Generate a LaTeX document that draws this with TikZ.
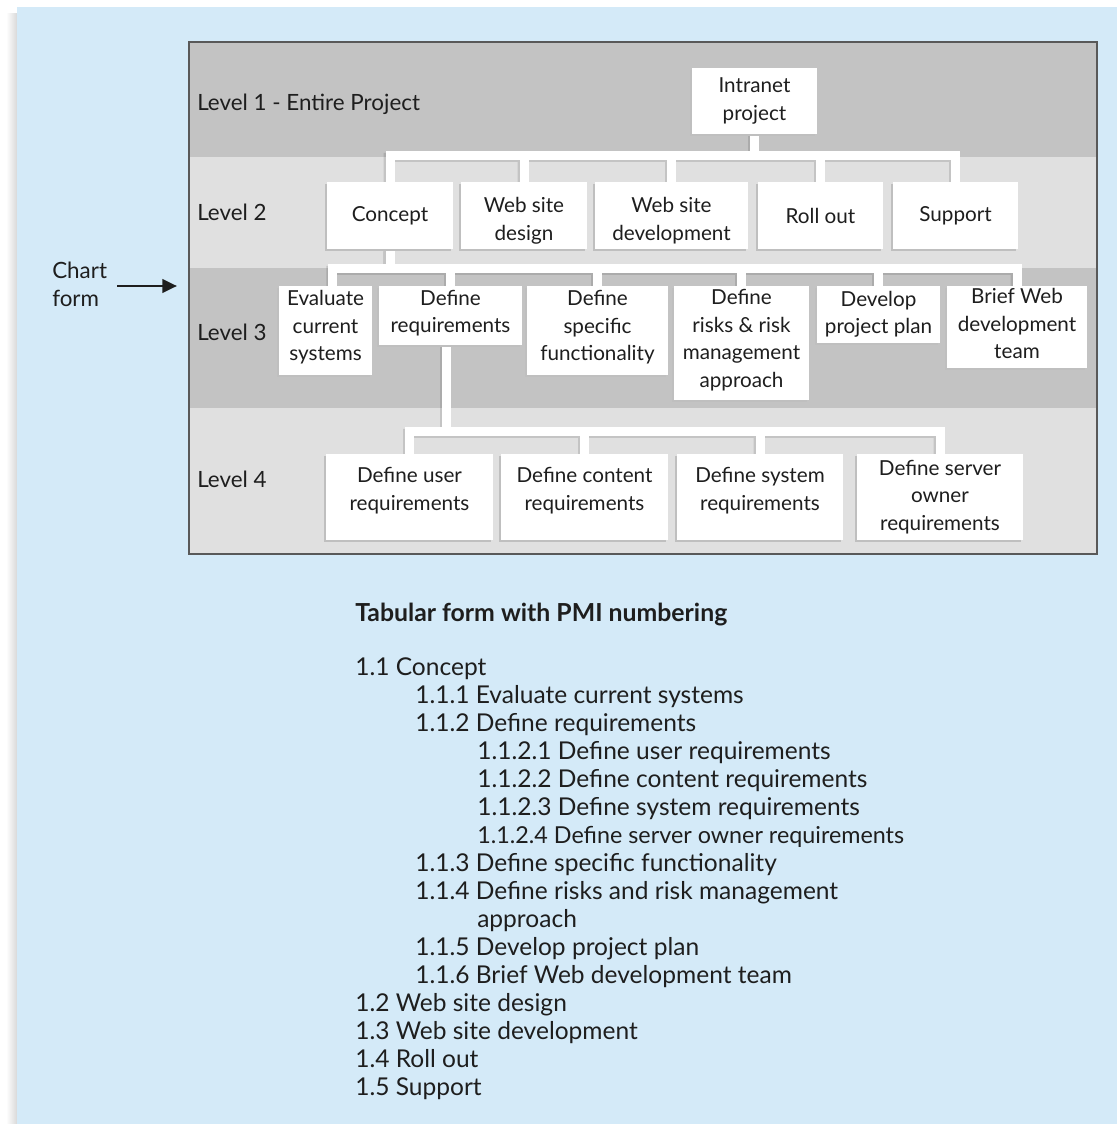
\documentclass[tikz,border=0pt]{standalone}
\usepackage{fontspec}
\setmainfont{Lato}
\usetikzlibrary{shadows,arrows.meta}
\definecolor{bgblue}{HTML}{D4EAF8}
\definecolor{darkband}{HTML}{C3C3C3}
\definecolor{lightband}{HTML}{E0E0E0}
\definecolor{txt}{HTML}{1E1E1E}
\pgfdeclarelayer{bottom}
\pgfdeclarelayer{background}
\pgfsetlayers{bottom,background,main}
\newcommand\xdp[1]{\rule[-#1]{0pt}{#1}}
\newcommand\xht[1]{\rule{0pt}{#1}}
\newcommand\wbsconnectors[1]{%
  \foreach \c in {concept,wsdesign,wsdev,rollout,support}
    \draw[#1] (intranet.south) -- ++(0,21) -| (\c.north);
  \draw[#1] (concept.south) -- ++(0,19) -| ([xshift=5.6pt]eval.north);
  \foreach \c in {defreq,defspec,risks,develop,brief}
    \draw[#1] (concept.south) -- ++(0,19) -| (\c.north);
  \foreach \c in {defuser,defcontent,defsystem,defserver}
    \draw[#1] ([xshift=-3pt]defreq.south) -- ++(0,86) -| (\c.north);
}
\begin{document}
\begin{tikzpicture}[x=0.75pt,y=-0.75pt,
  box/.style={fill=white, inner sep=0pt, align=center, text=txt,
    font=\fontsize{15.5}{20.6}\selectfont,
    general shadow={fill=black!25, shadow xshift=-1.5pt, shadow yshift=-1.5pt}},
  bx/.style 2 args={box, minimum width=#1*0.75pt, minimum height=#2*0.75pt},
  conn/.style={draw=white, line width=6.75pt},
  connshadow/.style={draw=black, line width=6.75pt},
  lvl/.style={anchor=base west, inner sep=0pt, text=txt, font=\fontsize{16.8}{20.6}\selectfont},
  item/.style={anchor=base west, inner sep=0pt, text=txt, font=\fontsize{18.4}{21}\selectfont}]
\useasboundingbox (0,0) rectangle (1117,1124);
\begin{pgfonlayer}{bottom}
\fill[white] (0,0) rectangle (1117,1124);
\shade[left color=white, right color=black!15] (6,14) rectangle (17,1124);
\fill[bgblue] (17,7) rectangle (1117,1124);
\fill[darkband] (189,42) rectangle (1097,157);
\fill[lightband] (189,157) rectangle (1097,268);
\fill[darkband] (189,268) rectangle (1097,408);
\fill[lightband] (189,408) rectangle (1097,554);
\draw[line width=1.1pt, black!65] (189,42) rectangle (1097,554);
\end{pgfonlayer}

% level labels
\node[lvl] (l1) at (197,110) {Level 1 - Entire Project};
\node[lvl] (l2) at (197,220) {Level 2};
\node[lvl] (l3) at (197,340) {Level 3};
\node[lvl] (l4) at (197,487) {Level 4};

% boxes
\node[bx={125}{66}] (intranet) at (754.5,101) {Intranet\\project};
\node[bx={126}{67}] (concept) at (390,215.5) {Concept};
\node[bx={126}{67}] (wsdesign) at (524,215.5) {\xht{19pt}Web site\\design};
\node[bx={153}{67}] (wsdev) at (671.5,215.5) {\xht{19pt}Web site\\development};
\node[bx={125}{67}] (rollout) at (820.5,215.5) {Roll out};
\node[bx={125}{67}] (support) at (955.5,215.5) {Support};

\node[bx={93}{89}] (eval) at (325.5,330.5) {Evaluate\\current\\systems\xdp{7.5pt}};
\node[bx={143}{59}] (defreq) at (450.5,315.5) {Define\\requirements\xdp{6pt}};
\node[bx={141}{89}] (defspec) at (597.5,330.5) {Define\\specific\\functionality\xdp{7.5pt}};
\node[bx={135}{114}] (risks) at (741.5,343) {Define\\risks \& risk\\management\\approach\xdp{7pt}};
\node[bx={123}{57}] (develop) at (878.5,314.5) {Develop\\project plan};
\node[bx={140}{82}] (brief) at (1017,327) {Brief Web\\development\\team\xdp{5pt}};

\node[bx={167}{86}] (defuser) at (409.5,497) {Define user\\requirements\xdp{12pt}};
\node[bx={167}{86}] (defcontent) at (584.5,497) {Define content\\requirements\xdp{12pt}};
\node[bx={166}{86}] (defsystem) at (760,497) {Define system\\requirements\xdp{12pt}};
\node[bx={166}{86}] (defserver) at (940,497) {Define server\\owner\\requirements};

\begin{pgfonlayer}{background}
\begin{scope}[transform canvas={shift={(-1.5pt,-1.5pt)}}]
\begin{scope}[transparency group, opacity=0.12]
\wbsconnectors{connshadow}
\end{scope}
\end{scope}
\wbsconnectors{conn}
\end{pgfonlayer}

% chart form
\node[lvl] (chart) at (52,278) {Chart};
\node[lvl] (form) at (52,306) {form};
\coordinate (arrs) at (117,286);
\coordinate (arre) at (177,286);
\draw[line width=2.2pt, txt, -{Triangle[length=11pt,width=10pt]}] (arrs) -- (arre);

% tabular
\node[anchor=base west, inner sep=0pt, text=txt, font=\fontsize{18.6}{21}\selectfont\bfseries] (title) at (355,621) {Tabular form with PMI numbering};
\node[item] (t1) at (355,675) {1.1 Concept};
\node[item] (t2) at (415,703) {1.1.1 Evaluate current systems};
\node[item] (t3) at (415,731) {1.1.2 Define requirements};
\node[item] (t4) at (477,759) {1.1.2.1 Define user requirements};
\node[item] (t5) at (477,787) {1.1.2.2 Define content requirements};
\node[item] (t6) at (477,815) {1.1.2.3 Define system requirements};
\node[item, font=\fontsize{17.5}{21}\selectfont] (t7) at (477,843) {1.1.2.4 Define server owner requirements};
\node[item] (t8) at (415,871) {1.1.3 Define specific functionality};
\node[item] (t9) at (415,899) {1.1.4 Define risks and risk management};
\node[item] (t10) at (477,927) {approach};
\node[item] (t11) at (415,955) {1.1.5 Develop project plan};
\node[item] (t12) at (415,983) {1.1.6 Brief Web development team};
\node[item] (t13) at (355,1011) {1.2 Web site design};
\node[item] (t14) at (355,1039) {1.3 Web site development};
\node[item] (t15) at (355,1067) {1.4 Roll out};
\node[item] (t16) at (355,1095) {1.5 Support};
\end{tikzpicture}
\end{document}
